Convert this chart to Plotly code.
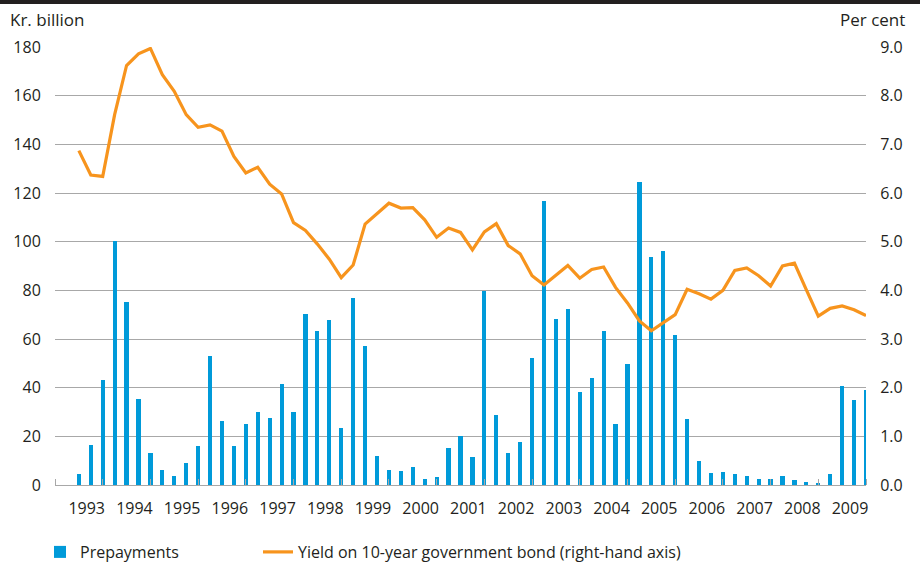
import plotly.graph_objects as go

# ---- data (quarterly, 1993Q1 - 2009Q3) ----
years = [y for y in range(1993, 2010) for _ in range(4)][:67]
quarters = [q for _ in range(1993, 2010) for q in range(1, 5)][:67]
prepayments = [4.4, 16.4, 43.3, 100.2, 75.4, 35.4, 13.3, 6.0, 3.8, 9.0,
               16.2, 53.1, 26.2, 16.2, 24.9, 29.9, 27.6, 41.7, 29.9, 70.2,
               63.3, 67.9, 23.3, 77.0, 57.3, 11.9, 6.2, 5.6, 7.4, 2.3,
               3.2, 15.4, 20.0, 11.7, 79.8, 28.8, 13.3, 17.8, 52.1, 116.8,
               68.3, 72.2, 38.4, 43.9, 63.3, 24.9, 49.8, 124.5, 93.6, 96.1,
               61.6, 27.3, 9.9, 5.1, 5.3, 4.4, 3.8, 2.5, 2.5, 3.7,
               2.1, 1.1, 0.7, 4.4, 40.7, 34.8, 38.9]
yield_10y = [6.87, 6.37, 6.34, 7.61, 8.62, 8.86, 8.97, 8.43, 8.09, 7.61,
             7.35, 7.40, 7.27, 6.75, 6.41, 6.53, 6.18, 5.98, 5.39, 5.23,
             4.95, 4.64, 4.26, 4.52, 5.36, 5.57, 5.79, 5.69, 5.70, 5.45,
             5.09, 5.28, 5.19, 4.83, 5.20, 5.37, 4.92, 4.75, 4.30, 4.11,
             4.30, 4.51, 4.25, 4.43, 4.48, 4.06, 3.74, 3.37, 3.17, 3.34,
             3.50, 4.02, 3.93, 3.82, 4.00, 4.41, 4.46, 4.30, 4.09, 4.50,
             4.56, 4.01, 3.47, 3.63, 3.68, 3.60, 3.48]
year_labels = [str(y) for y in range(1993, 2010)]
left_ticks = list(range(0, 181, 20))
right_ticks = list(range(0, 10))

x = [y + (q - 1) / 4 for y, q in zip(years, quarters)]

BLUE = "#009ad9"
ORANGE = "#f7941d"
GRID = "#a8a8a8"
TXT = "#231f20"
FONT = "Open Sans"

PL, PR, PT, PB = 55, 866, 47, 485  # plot area in pixels
PW, PH = PR - PL, PB - PT


def px(xp):
    return (xp - PL) / PW


def py(yp):
    return (PB - yp) / PH


fig = go.Figure()
fig.add_trace(go.Bar(x=x, y=prepayments, name="Prepayments",
                     marker=dict(color=BLUE, line=dict(width=0)),
                     width=0.088, yaxis="y", legend="legend"))
fig.add_trace(go.Scatter(x=x, y=yield_10y, mode="lines",
                         name="Yield on 10-year government bond (right-hand axis)",
                         line=dict(color=ORANGE, width=3.2), yaxis="y2",
                         legend="legend2"))

legend_common = dict(orientation="h", yanchor="middle", y=py(552),
                     xanchor="left", font=dict(size=16, color=TXT),
                     itemwidth=30, bgcolor="rgba(0,0,0,0)", borderwidth=0)

fig.update_layout(
    width=920, height=568,
    margin=dict(l=PL, r=920 - PR, t=PT, b=568 - PB, autoexpand=False),
    paper_bgcolor="white", plot_bgcolor="white",
    font=dict(family=FONT, size=16, color=TXT),
    bargap=0,
    xaxis=dict(
        range=[1992.5, 2009.5],
        tickmode="array",
        tickvals=[int(l) + 0.165 for l in year_labels],
        ticktext=year_labels,
        ticks="outside", ticklen=9, tickcolor="rgba(0,0,0,0)",
        showgrid=False, zeroline=False,
        showline=True, linecolor=GRID, linewidth=1.2,
        layer="above traces",
        minor=dict(tickmode="array",
                   tickvals=[int(l) - 0.5 for l in year_labels] + [2009.5],
                   ticks="inside", ticklen=6, tickcolor=GRID, tickwidth=1.2,
                   showgrid=False),
        tickfont=dict(size=16),
    ),
    yaxis=dict(
        range=[0, 180], tickmode="array", tickvals=left_ticks,
        showgrid=True, gridcolor=GRID, gridwidth=1.2,
        zeroline=False, showline=False,
        ticks="outside", ticklen=10, tickcolor="rgba(0,0,0,0)",
        tickfont=dict(size=16),
    ),
    yaxis2=dict(
        range=[0, 9], tickmode="array", tickvals=right_ticks,
        tickformat=".1f", overlaying="y", side="right",
        showgrid=False, zeroline=False, showline=False,
        ticks="outside", ticklen=10, tickcolor="rgba(0,0,0,0)",
        tickfont=dict(size=16),
    ),
    legend=dict(x=px(40), **legend_common),
    legend2=dict(x=px(258), **legend_common),
    showlegend=True,
)

# header rule and axis titles
fig.add_shape(type="line", xref="paper", yref="paper",
              x0=px(0), x1=px(920), y0=py(2), y1=py(2),
              line=dict(color="#231f20", width=4))
fig.add_annotation(text="Kr. billion", xref="paper", yref="paper",
                   x=px(8), y=py(20), xanchor="left", yanchor="middle",
                   showarrow=False, font=dict(size=17, color=TXT))
fig.add_annotation(text="Per cent", xref="paper", yref="paper",
                   x=px(907), y=py(20), xanchor="right", yanchor="middle",
                   showarrow=False, font=dict(size=17, color=TXT))

fig.write_html("out.html",
               config={"displayModeBar": False},
               post_script="document.body.style.margin='0';document.body.style.overflow='hidden';")
